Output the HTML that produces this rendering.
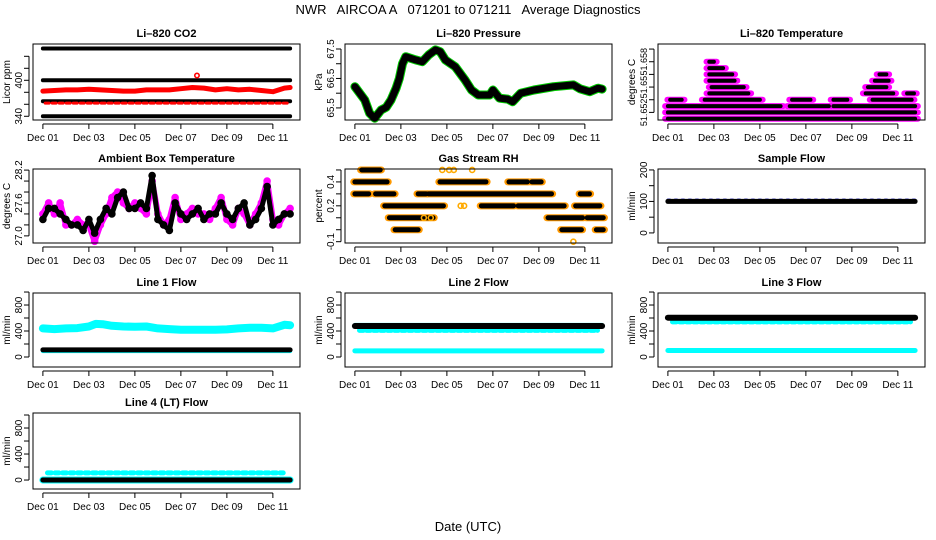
<!DOCTYPE html>
<html><head><meta charset="utf-8"><style>
html,body{margin:0;padding:0;background:#fff;}
svg{display:block;font-family:"Liberation Sans",Arial,sans-serif;}
</style></head><body>
<svg id="fig" width="936" height="540" viewBox="0 0 936 540" xmlns="http://www.w3.org/2000/svg">
<text x="468" y="14" text-anchor="middle" font-size="13" style="white-space:pre">NWR   AIRCOA A   071201 to 071211   Average Diagnostics</text>
<text x="468" y="531" text-anchor="middle" font-size="13">Date (UTC)</text>
</svg>
<script>
// ---- shared x axis data ----
const dayTicks = [0,2,4,6,8,10];
const dayTickLabels = ["Dec 01","Dec 03","Dec 05","Dec 07","Dec 09","Dec 11"];
const dayMin = 0, dayMax = 10.75;

// ---- Li-820 CO2 ----
const co2BandValues = [453,400,365,340];
const co2RedDays = [0,0.5,1,1.5,2,2.5,3,3.5,4,4.5,5,5.5,6,6.5,7,7.5,8,8.5,9,9.5,10,10.5,10.75];
const co2RedValues = [382,383,384,384,385,384,383,382,382,384,384,384,386,388,387,384,386,384,385,383,381,387,388];
const co2RedLow = 362;
const co2Outlier = [6.7,408];

// ---- Li-820 Pressure ----
const presDays = [0,0.43,0.64,0.86,1.14,1.36,1.57,1.79,1.93,2.07,2.21,2.64,2.93,3.21,3.5,3.71,3.93,4.36,4.79,5.07,5.36,5.64,5.86,6,6.29,6.64,6.86,7.21,7.79,8.64,9.5,9.79,10.21,10.57,10.75];
const presValues = [66.22,65.77,65.32,65.15,65.43,65.52,65.77,66.17,66.5,67.0,67.24,67.13,67.07,67.3,67.47,67.41,67.13,66.9,66.45,66.11,65.94,65.94,65.94,66.11,65.83,65.8,65.71,66.0,66.11,66.22,66.28,66.15,66.05,66.17,66.14];

// ---- Li-820 Temperature (level segments) ----
const ltLevel = [0,1,2,2,2,3,3,3,3,3,4,4,4,5,5,6,6,7,7,8,9];
const ltStart = [0,0,0,5.3,7.2,0.1,1.6,5.4,7.2,8.9,1.8,8.6,10.4,1.9,8.7,1.8,9.0,1.8,9.2,1.8,1.8];
const ltEnd   = [10.75,10.75,4.9,7.0,10.75,0.6,4.0,6.2,7.8,10.6,3.5,9.8,10.7,3.3,9.5,2.9,9.6,2.8,9.5,2.4,2.0];
const ltTickValues = [51.650,51.652,51.654,51.656,51.658,51.660];
const ltTickLabels = ["51.652","","51.65","","51.658",""];

// ---- Ambient Box Temperature ----
const ambDays = [0,0.25,0.5,0.75,1,1.25,1.5,1.75,2,2.25,2.5,2.75,3,3.25,3.5,3.75,4,4.25,4.5,4.75,5,5.25,5.5,5.75,6,6.25,6.5,6.75,7,7.25,7.5,7.75,8,8.25,8.5,8.75,9,9.25,9.5,9.75,10,10.25,10.5,10.75];
const ambBlack = [27.3,27.5,27.5,27.4,27.3,27.2,27.2,27.1,27.3,27.05,27.3,27.5,27.4,27.7,27.8,27.5,27.5,27.6,27.5,28.1,27.3,27.2,27.1,27.6,27.4,27.3,27.4,27.5,27.3,27.4,27.4,27.6,27.4,27.3,27.5,27.6,27.2,27.3,27.5,27.9,27.2,27.3,27.4,27.4];
const ambMagenta = [27.4,27.6,27.4,27.6,27.2,27.2,27.3,27.2,27.2,26.9,27.2,27.4,27.7,27.8,27.6,27.5,27.6,27.5,27.4,28.0,27.4,27.2,27.3,27.7,27.3,27.4,27.5,27.4,27.4,27.3,27.5,27.7,27.3,27.2,27.5,27.4,27.2,27.4,27.6,28.0,27.3,27.2,27.4,27.5];
const ambTicks = [27.0,27.2,27.4,27.6,27.8,28.0,28.2];
const ambTickLabels = ["27.0","","","27.6","","","28.2"];

// ---- Gas Stream RH (level segments) ----
const rhLevel = [0.5,0.4,0.4,0.4,0.4,0.3,0.3,0.3,0.3,0.3,0.2,0.2,0.2,0.2,0.1,0.1,0.1,0.0,0.0,0.0];
const rhStart = [0.3,0,3.7,6.7,7.7,0,0.9,2.75,3.2,9.8,1.3,5.5,7.1,9.6,1.5,8.4,10.1,1.75,9.0,10.5];
const rhEnd   = [1.1,1.4,5.7,7.5,8.1,0.6,1.7,3.1,8.55,10.2,3.85,6.9,9.1,10.65,3.4,9.9,10.8,2.75,9.85,10.8];
const rhYellowDays = [3.8,4.1,4.3,5.1,4.6,4.75,9.5,3.0,3.3];
const rhYellowValues = [0.5,0.5,0.5,0.5,0.2,0.2,-0.1,0.1,0.1];
const rhTicks = [-0.1,0,0.1,0.2,0.3,0.4,0.5];
const rhTickLabels = ["-0.1","","","0.2","","0.4",""];

// ---- Flows ----
const sampleFlow = 100;
const sampleTicks = [0,50,100,150,200];
const sampleTickLabels = ["0","","100","","200"];
const flowTicks = [0,200,400,600,800,1000];
const flowTickLabels = ["0","","400","","800",""];
const line1CyanDays = [0,0.5,1,1.5,2,2.3,2.6,3,3.5,4,4.5,5,5.5,6,6.5,7,7.5,8,8.5,9,9.5,10,10.5,10.75];
const line1CyanValues = [440,430,440,445,470,510,505,480,470,466,470,440,430,420,420,418,420,425,440,450,450,440,495,490];
const line1Black = 110;
const line2Black = 477, line2Circles = 410, line2CyanLow = 95;
const line3Black = 605, line3Circles = 540, line3CyanLow = 100;
const line4Circles = 110, line4Black = 0;

const svg = document.getElementById('fig');
const NS = 'http://www.w3.org/2000/svg';
const cols = [33,345,658];
const colW = 267;
const pad = (dayMax-dayMin)*0.04;

function mk(tag, name, attrs, parent){
  const el = document.createElementNS(NS, tag);
  
  
  for (const k in attrs) el.setAttribute(k, attrs[k]);
  (parent||svg).appendChild(el);
  return el;
}

function panel(cfg){
  const g = mk('g', cfg.name, {});
  const left = cols[cfg.col], right = left+colW;
  const xs = d => left + (d-(dayMin-pad))/(dayMax-dayMin+2*pad)*colW;
  const ys = v => cfg.top + (cfg.ymax-v)/(cfg.ymax-cfg.ymin)*(cfg.bottom-cfg.top);
  const p = {g, xs, ys, left, right};
  const t = mk('text', cfg.name+'-title', {x:(left+right)/2, y:cfg.top-7, 'text-anchor':'middle','font-size':11,'font-weight':'bold'}, g);
  t.textContent = cfg.title;
  p.plot = mk('g', cfg.name+'-data', {}, g);
  mk('rect', cfg.name+'-frame', {x:left, y:cfg.top, width:colW, height:cfg.bottom-cfg.top, fill:'none', stroke:'#000','stroke-width':1}, g);
  const xa = mk('g', cfg.name+'-x-axis', {}, g);
  mk('line','x-axis-line',{x1:xs(dayTicks[0]),x2:xs(dayTicks[dayTicks.length-1]),y1:cfg.bottom+4,y2:cfg.bottom+4,stroke:'#000'},xa);
  dayTicks.forEach((d,i)=>{
    mk('line','x-tick',{x1:xs(d),x2:xs(d),y1:cfg.bottom+4,y2:cfg.bottom+9,stroke:'#000'},xa);
    const tl = mk('text','x-tick-label',{x:xs(d),y:cfg.bottom+21,'text-anchor':'middle','font-size':10},xa);
    tl.textContent = dayTickLabels[i];
  });
  const ya = mk('g', cfg.name+'-y-axis', {}, g);
  const yt = cfg.ticks;
  const fs = cfg.tickFont || 10;
  mk('line','y-axis-line',{x1:left-4,x2:left-4,y1:ys(yt[0]),y2:ys(yt[yt.length-1]),stroke:'#000'},ya);
  yt.forEach((v,i)=>{
    mk('line','y-tick',{x1:left-9,x2:left-4,y1:ys(v),y2:ys(v),stroke:'#000'},ya);
    if (cfg.labels[i]) {
      const tl = mk('text','y-tick-label',{x:0,y:0,'text-anchor':'middle','font-size':fs,transform:`translate(${left-11},${ys(v)}) rotate(-90)`},ya);
      tl.textContent = cfg.labels[i];
    }
  });
  const yl = mk('text', cfg.name+'-y-title', {x:0,y:0,'text-anchor':'middle','font-size':10,transform:`translate(${left-23},${(cfg.top+cfg.bottom)/2}) rotate(-90)`}, g);
  yl.textContent = cfg.ylab;
  return p;
}
function band(p, d0, d1, v, color, w, dash, name){
  const a = {x1:p.xs(d0),x2:p.xs(d1),y1:p.ys(v),y2:p.ys(v),stroke:color,'stroke-width':w,'stroke-linecap':'round'};
  if (dash) a['stroke-dasharray']=dash;
  mk('line', name, a, p.plot);
}
function trace(p, days, vals, color, w, name){
  const pts = days.map((d,i)=>p.xs(d).toFixed(1)+','+p.ys(vals[i]).toFixed(1)).join(' ');
  mk('polyline', name, {points:pts, fill:'none', stroke:color,'stroke-width':w,'stroke-linejoin':'round','stroke-linecap':'round'}, p.plot);
}
function dots(p, days, vals, color, r, name){
  days.forEach((d,i)=>mk('circle', name, {cx:p.xs(d),cy:p.ys(vals[i]),r:r,fill:'none',stroke:color,'stroke-width':1.6}, p.plot));
}

const R = [[44,120],[169,243],[293,367],[413,489]];

// CO2
let p = panel({name:'co2-panel',col:0,top:R[0][0],bottom:R[0][1],ymin:333.8,ymax:460.5,ticks:[340,360,380,400,420,440],labels:["340","","","400","",""],title:'Li\u2013820 CO2',ylab:'Licor ppm'});
co2BandValues.forEach(v=>band(p,dayMin,dayMax,v,'#000',4,null,'co2-black-band'));
band(p,dayMin+0.1,dayMax-0.1,co2RedLow,'#f00',3,'4 3','co2-red-low-band');
trace(p,co2RedDays,co2RedValues,'#f00',5,'co2-red-series');
dots(p,[co2Outlier[0]],[co2Outlier[1]],'#f00',2.2,'co2-red-outlier');

// Pressure
p = panel({name:'pressure-panel',col:1,top:R[0][0],bottom:R[0][1],ymin:65.09,ymax:67.67,ticks:[65.5,66,66.5,67,67.5],labels:["65.5","","66.5","","67.5"],title:'Li\u2013820 Pressure',ylab:'kPa'});
trace(p,presDays,presValues,'#0c0',9,'pressure-green-series');
trace(p,presDays,presValues,'#000',7,'pressure-black-series');

// Li temperature
p = panel({name:'licor-temp-panel',col:2,top:R[0][0],bottom:R[0][1],ymin:51.6488,ymax:51.6608,ticks:ltTickValues,labels:ltTickLabels,tickFont:9,title:'Li\u2013820 Temperature',ylab:'degrees C'});
ltLevel.forEach((L,i)=>band(p,ltStart[i]-0.12,ltEnd[i]+0.12,51.649+0.001*L,'#f0f',6,null,'licor-temp-magenta-band'));
ltLevel.forEach((L,i)=>band(p,ltStart[i],ltEnd[i],51.649+0.001*L,'#000',4,null,'licor-temp-black-band'));

// Ambient
p = panel({name:'ambient-temp-panel',col:0,top:R[1][0],bottom:R[1][1],ymin:26.87,ymax:28.22,ticks:ambTicks,labels:ambTickLabels,title:'Ambient Box Temperature',ylab:'degrees C'});
trace(p,ambDays,ambMagenta,'#f0f',6,'ambient-magenta-series');
dots(p,ambDays,ambMagenta,'#f0f',3,'ambient-magenta-point');
trace(p,ambDays,ambBlack,'#000',5,'ambient-black-series');
dots(p,ambDays,ambBlack,'#000',3,'ambient-black-point');

// RH
p = panel({name:'rh-panel',col:1,top:R[1][0],bottom:R[1][1],ymin:-0.111,ymax:0.508,ticks:rhTicks,labels:rhTickLabels,title:'Gas Stream RH',ylab:'percent'});
rhLevel.forEach((v,i)=>band(p,rhStart[i]-0.05,rhEnd[i]+0.05,v,'#f90',7,null,'rh-yellow-band'));
rhLevel.forEach((v,i)=>band(p,rhStart[i],rhEnd[i],v,'#000',5,null,'rh-black-band'));
dots(p,rhYellowDays,rhYellowValues,'#fa0',2.5,'rh-yellow-point');

// Sample flow
p = panel({name:'sample-flow-panel',col:2,top:R[1][0],bottom:R[1][1],ymin:-32,ymax:203,ticks:sampleTicks,labels:sampleTickLabels,title:'Sample Flow',ylab:'ml/min'});
band(p,dayMin,dayMax,sampleFlow+4,'#00c',3,'2 5','sample-flow-blue-band');
band(p,dayMin,dayMax,sampleFlow,'#000',5,null,'sample-flow-black-band');

// Line 1
p = panel({name:'line1-flow-panel',col:0,top:R[2][0],bottom:R[2][1],ymin:-154,ymax:985,ticks:flowTicks,labels:flowTickLabels,title:'Line 1 Flow',ylab:'ml/min'});
trace(p,line1CyanDays,line1CyanValues,'#0ff',8,'line1-cyan-series');
band(p,dayMin,dayMax,line1Black-20,'#0ff',4,null,'line1-cyan-low-band');
band(p,dayMin,dayMax,line1Black,'#000',5,null,'line1-black-band');

// Line 2
p = panel({name:'line2-flow-panel',col:1,top:R[2][0],bottom:R[2][1],ymin:-154,ymax:985,ticks:flowTicks,labels:flowTickLabels,title:'Line 2 Flow',ylab:'ml/min'});
band(p,dayMin,dayMax,line2CyanLow,'#0ff',5,null,'line2-cyan-low-band');
band(p,dayMin+0.2,dayMax-0.2,line2Circles,'#0ff',5,'4 3','line2-cyan-circles');
band(p,dayMin,dayMax,line2Black+25,'#0ff',3,null,'line2-cyan-high-band');
band(p,dayMin,dayMax,line2Black,'#000',6,null,'line2-black-band');

// Line 3
p = panel({name:'line3-flow-panel',col:2,top:R[2][0],bottom:R[2][1],ymin:-154,ymax:985,ticks:flowTicks,labels:flowTickLabels,title:'Line 3 Flow',ylab:'ml/min'});
band(p,dayMin,dayMax,line3CyanLow,'#0ff',5,null,'line3-cyan-low-band');
band(p,dayMin+0.2,dayMax-0.2,line3Circles,'#0ff',5,'4 3','line3-cyan-circles');
band(p,dayMin,dayMax,line3Black,'#000',6,null,'line3-black-band');

// Line 4
p = panel({name:'line4-flow-panel',col:0,top:R[3][0],bottom:R[3][1],ymin:-138,ymax:1031,ticks:flowTicks,labels:flowTickLabels,title:'Line 4 (LT) Flow',ylab:'ml/min'});
band(p,dayMin+0.2,dayMax-0.3,line4Circles,'#0ff',5,'4 3.5','line4-cyan-circles');
band(p,dayMin,dayMax,line4Black,'#0ff',7,null,'line4-cyan-band');
band(p,dayMin,dayMax,line4Black,'#000',5,null,'line4-black-band');
</script>
</body></html>
